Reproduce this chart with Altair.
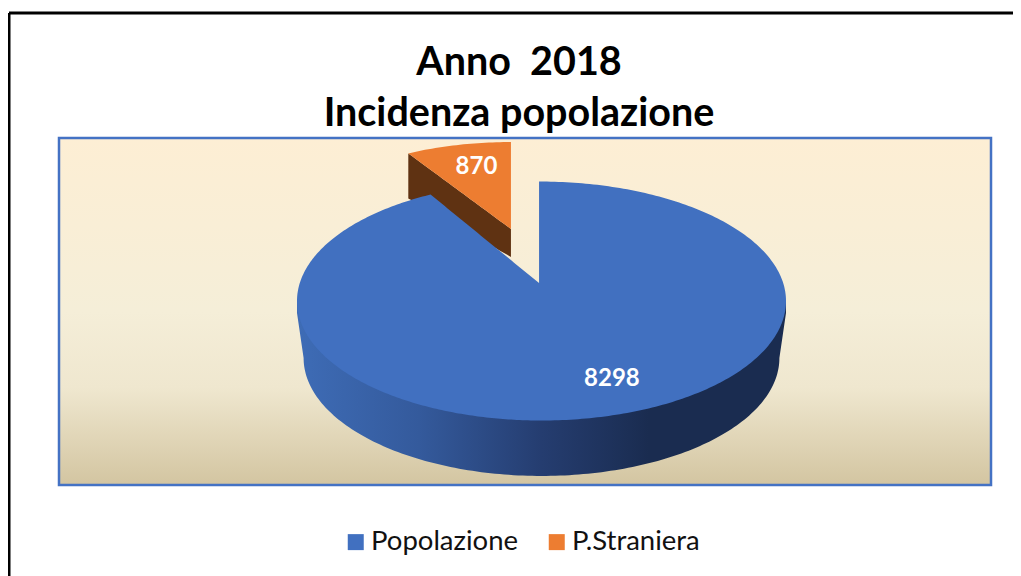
import numpy as np
import pandas as pd
import altair as alt

categories = ["Popolazione", "P.Straniera"]
values = [8298, 870]
colors = ["#4170c0", "#ed7d31"]
title_lines = ["Anno\u00a0\u00a02018", "Incidenza popolazione"]

# --- layout of the drawing (page pixels of the reference) ---
PANEL_L, PANEL_R, PANEL_T, PANEL_B = 59, 991, 138, 485
CX, CY, RX, RY = 541.5, 301.0, 244.5, 119.5
PERSPECTIVE = 0.79        # foreshortening of the slice's sweep by the tilted view
W, H = PANEL_R - PANEL_L, PANEL_B - PANEL_T

x_scale = alt.Scale(domain=[(PANEL_L - CX) / RX, (PANEL_R - CX) / RX], nice=False, zero=False)
y_scale = alt.Scale(domain=[(CY - PANEL_B) / RY, (CY - PANEL_T) / RY], nice=False, zero=False)
color_scale = alt.Scale(domain=categories, range=colors)

share = values[1] / sum(values)
T = 2 * np.pi * share * PERSPECTIVE

# main slice, top face: outer rim, notch edge down to the apex, jump back up, outer rim
apex_u, apex_v = -0.01, 0.15
end_u, end_v = -np.sin(T), np.cos(T)
t_left = np.linspace(-np.pi / 2, -T, 90)
notch = np.linspace(0, 1, 40)[1:]
t_right = np.linspace(0, np.pi / 2, 100)
u_main = np.concatenate([
    np.sin(t_left),
    end_u + (apex_u - end_u) * notch,
    [apex_u + 1e-6],
    apex_u + 2e-6 + (1 - apex_u - 2e-6) * np.sin(t_right),
])
v_upper = np.concatenate([
    np.cos(t_left),
    end_v + (apex_v - end_v) * notch,
    [1.0],
    np.cos(t_right),
])
v_lower = -np.sqrt(np.clip(1 - u_main ** 2, 0, 1))
main_top = pd.DataFrame({"u": u_main, "v": v_upper, "v2": v_lower, "series": categories[0]})

# main slice, wall
BOT_RX, BOT_RY, BOT_V = 0.973, 0.987, -0.477
u_b = BOT_RX * np.sin(np.linspace(-np.pi / 2, np.pi / 2, 161))
v_b = BOT_V - BOT_RY * np.sqrt(np.clip(1 - (u_b / BOT_RX) ** 2, 0, 1))
wall = pd.DataFrame({
    "u": np.concatenate([[-1.0], u_b, [1.0]]),
    "v": 0.0,
    "v2": np.concatenate([[-0.1], v_b, [-0.1]]),
})

# exploded slice, top face and wall
O_CU, O_CV, O_RU, O_RV = -0.125, 0.46, 0.925, 0.87
o_apex_v = 0.6025
t_o = np.linspace(-T, 0, 30)
u_o = O_CU + O_RU * np.sin(t_o)
v_o = O_CV + O_RV * np.cos(t_o)
frac = (u_o - u_o[0]) / (u_o[-1] - u_o[0])
edge = v_o[0] + (o_apex_v - v_o[0]) * frac
orange_top = pd.DataFrame({"u": u_o, "v": v_o, "v2": edge, "series": categories[1]})
orange_wall = pd.DataFrame({"u": u_o, "v": edge, "v2": edge - (0.377 + (0.234 - 0.377) * frac)})

labels = pd.DataFrame({"u": [0.288, -0.266], "v": [-0.654, 1.118], "label": [str(v) for v in values]})

enc = dict(
    x=alt.X("u:Q", scale=x_scale, axis=None),
    y=alt.Y("v:Q", scale=y_scale, axis=None),
    y2=alt.Y2("v2"),
)
color = alt.Color(
    "series:N",
    scale=color_scale,
    sort=categories,
    legend=alt.Legend(
        title=None, orient="none", direction="horizontal", legendX=283, legendY=390,
        symbolType="square", symbolSize=256, symbolStrokeWidth=0, columns=2, columnPadding=24,
        labelFont="Lato", labelFontSize=27.5, labelColor="#111111", labelLimit=300, labelOffset=1.5,
    ),
)

one = alt.Data(values=[{"a": 1}])
panel = alt.Chart(one).mark_rect(
    fill=alt.Gradient(
        gradient="linear", x1=0, x2=0, y1=0, y2=1,
        stops=[
            alt.GradientStop(offset=0, color="#fdeed4"),
            alt.GradientStop(offset=0.5, color="#f5eed8"),
            alt.GradientStop(offset=0.72, color="#efe7cf"),
            alt.GradientStop(offset=1, color="#d3c5a1"),
        ],
    ),
    stroke="#4472c4", strokeWidth=2.5,
).encode(x=alt.value(0), x2=alt.value(W), y=alt.value(0), y2=alt.value(H))

o_wall = alt.Chart(orange_wall).mark_area(color="#5f3212").encode(**enc)
o_top = alt.Chart(orange_top).mark_area().encode(color=color, **enc)
m_wall = alt.Chart(wall).mark_area(
    fill=alt.Gradient(
        gradient="linear", x1=0, x2=1, y1=0, y2=0,
        stops=[
            alt.GradientStop(offset=0, color="#3e6cb6"),
            alt.GradientStop(offset=0.25, color="#345a9c"),
            alt.GradientStop(offset=0.5, color="#253d70"),
            alt.GradientStop(offset=0.72, color="#1a2c50"),
            alt.GradientStop(offset=1, color="#1a2c50"),
        ],
    )
).encode(**enc)
m_top = alt.Chart(main_top).mark_area().encode(color=color, **enc)
text = alt.Chart(labels).mark_text(
    font="Lato", fontSize=24, fontWeight="bold", color="white"
).encode(
    x=alt.X("u:Q", scale=x_scale, axis=None),
    y=alt.Y("v:Q", scale=y_scale, axis=None),
    text="label:N",
)

frame_left = alt.Chart(one).mark_rule(color="black", strokeWidth=3).encode(
    x=alt.value(9 - PANEL_L), y=alt.value(13 - PANEL_T), y2=alt.value(576 - PANEL_T)
)
frame_top = alt.Chart(one).mark_rule(color="black", strokeWidth=3).encode(
    y=alt.value(13 - PANEL_T), x=alt.value(9 - PANEL_L), x2=alt.value(1021 - PANEL_L)
)

chart = alt.layer(panel, o_wall, o_top, m_wall, m_top, text, frame_left, frame_top).properties(
    width=W,
    height=H,
    autosize=alt.AutoSizeParams(type="none"),
    padding={"left": PANEL_L - 8, "top": PANEL_T - 8, "right": 1021 - 16 - (PANEL_R - 8), "bottom": 576 - PANEL_B},
    title=alt.TitleParams(
        text=title_lines, font="Lato", fontSize=39.5, fontWeight="bold", color="black",
        anchor="middle", frame="group", lineHeight=51, offset=6, dx=-6, dy=129,
    ),
).configure_view(stroke=None)

chart.save("out.html", embed_options={"renderer": "svg", "actions": False})
